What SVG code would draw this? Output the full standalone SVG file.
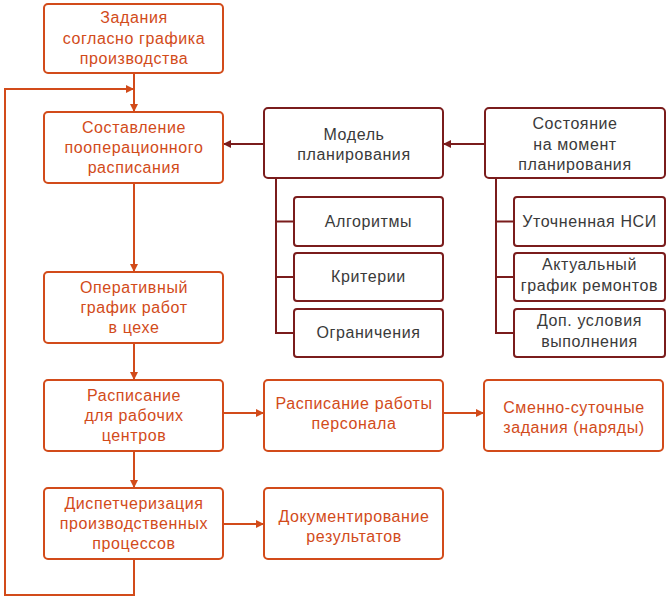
<svg xmlns="http://www.w3.org/2000/svg" width="666" height="600" viewBox="0 0 666 600">
<defs>
<marker id="ao" markerWidth="8" markerHeight="8" refX="7" refY="4" orient="auto" markerUnits="userSpaceOnUse"><path d="M0,0 L8,4 L0,8 z" fill="#D24B1A"/></marker>
<marker id="ad" markerWidth="8" markerHeight="8" refX="7" refY="4" orient="auto" markerUnits="userSpaceOnUse"><path d="M0,0 L8,4 L0,8 z" fill="#7A1C1C"/></marker>
</defs>
<style>
.bo{fill:#fff;stroke:#D24B1A;stroke-width:2}
.bd{fill:#fff;stroke:#7A1C1C;stroke-width:2}
.to{fill:#D24B1A;font-family:"Liberation Sans",Arial,sans-serif;font-size:16px;letter-spacing:0.6px;text-anchor:middle}
.td{fill:#3A3A3A;font-family:"Liberation Sans",Arial,sans-serif;font-size:16px;letter-spacing:0.6px;text-anchor:middle}
.lo{fill:none;stroke:#D24B1A;stroke-width:2}
.ld{fill:none;stroke:#7A1C1C;stroke-width:2}
</style>
<rect width="666" height="600" fill="#fff"/>
<g id="connectors">
<path class="lo" d="M134,73 V111" marker-end="url(#ao)"/>
<path class="lo" d="M134,183 V271" marker-end="url(#ao)"/>
<path class="lo" d="M134,343 V379" marker-end="url(#ao)"/>
<path class="lo" d="M134,451 V487" marker-end="url(#ao)"/>
<path class="lo" d="M134,559 V595 H5 V89 H133" marker-end="url(#ao)"/>
<path class="lo" d="M223,413 H263" marker-end="url(#ao)"/>
<path class="lo" d="M443,413 H483" marker-end="url(#ao)"/>
<path class="lo" d="M223,524 H263" marker-end="url(#ao)"/>
<path class="ld" d="M264,144 H224" marker-end="url(#ad)"/>
<path class="ld" d="M485,144 H444" marker-end="url(#ad)"/>
<path class="ld" d="M276,178 V333 H294 M276,221.5 H294 M276,277 H294"/>
<path class="ld" d="M496,178 V333 H514 M496,221.5 H514 M496,277 H514"/>
</g>
<g id="n1"><rect class="bo" x="44" y="4" width="179" height="69" rx="4"/><text class="to" x="134" y="23">Задания</text><text class="to" x="134" y="43.5">согласно графика</text><text class="to" x="134" y="64">производства</text></g>
<g id="n2"><rect class="bo" x="44" y="112" width="179" height="71" rx="4"/><text class="to" x="134" y="133">Составление</text><text class="to" x="134" y="153">пооперационного</text><text class="to" x="134" y="173">расписания</text></g>
<g id="n3"><rect class="bo" x="44" y="272" width="179" height="71" rx="4"/><text class="to" x="134" y="293">Оперативный</text><text class="to" x="134" y="313">график работ</text><text class="to" x="134" y="333">в цехе</text></g>
<g id="n4"><rect class="bo" x="44" y="380" width="179" height="71" rx="4"/><text class="to" x="134" y="401">Расписание</text><text class="to" x="134" y="421">для рабочих</text><text class="to" x="134" y="441">центров</text></g>
<g id="n5"><rect class="bo" x="44" y="488" width="179" height="71" rx="4"/><text class="to" x="134" y="509">Диспетчеризация</text><text class="to" x="134" y="529">производственных</text><text class="to" x="134" y="549">процессов</text></g>
<g id="n6"><rect class="bo" x="264" y="380" width="179" height="71" rx="4"/><text class="to" x="354" y="409">Расписание работы</text><text class="to" x="354" y="429">персонала</text></g>
<g id="n7"><rect class="bo" x="484" y="380" width="179" height="71" rx="4"/><text class="to" x="574" y="413">Сменно-суточные</text><text class="to" x="574" y="433">задания (наряды)</text></g>
<g id="n8"><rect class="bo" x="264" y="488" width="179" height="71" rx="4"/><text class="to" x="354" y="522">Документирование</text><text class="to" x="354" y="542">результатов</text></g>
<g id="m1"><rect class="bd" x="264" y="108" width="179" height="70" rx="4"/><text class="td" x="354" y="140">Модель</text><text class="td" x="354" y="160">планирования</text></g>
<g id="m3"><rect class="bd" x="294" y="197" width="149" height="49" rx="3"/><text class="td" x="368.5" y="227">Алгоритмы</text></g>
<g id="m4"><rect class="bd" x="294" y="253" width="149" height="48" rx="3"/><text class="td" x="368.5" y="282">Критерии</text></g>
<g id="m5"><rect class="bd" x="294" y="309" width="149" height="48" rx="3"/><text class="td" x="368.5" y="338">Ограничения</text></g>
<g id="s1"><rect class="bd" x="485" y="108" width="180" height="70" rx="4"/><text class="td" x="575" y="129">Состояние</text><text class="td" x="575" y="150">на момент</text><text class="td" x="575" y="170">планирования</text></g>
<g id="s2"><rect class="bd" x="514" y="197" width="151" height="49" rx="3"/><text class="td" x="589.5" y="227">Уточненная НСИ</text></g>
<g id="s3"><rect class="bd" x="514" y="253" width="151" height="48" rx="3"/><text class="td" x="589.5" y="270">Актуальный</text><text class="td" x="589.5" y="291">график ремонтов</text></g>
<g id="s4"><rect class="bd" x="514" y="309" width="151" height="48" rx="3"/><text class="td" x="589.5" y="326">Доп. условия</text><text class="td" x="589.5" y="347">выполнения</text></g>
</svg>
